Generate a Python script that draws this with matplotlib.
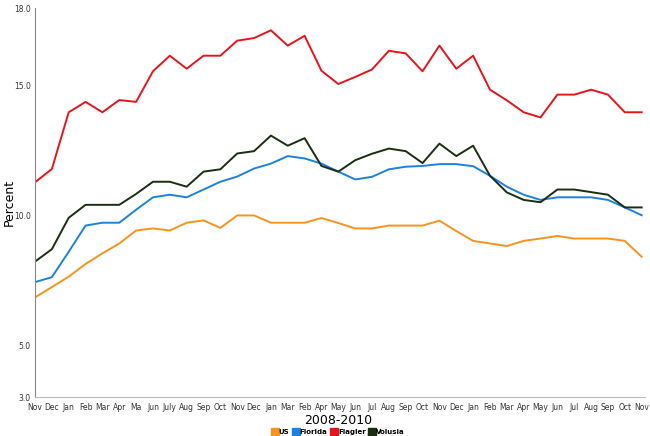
import matplotlib
matplotlib.use('Agg')
import matplotlib.pyplot as plt
from matplotlib.lines import Line2D

months = ['Nov', 'Dec', 'Jan', 'Feb', 'Mar', 'Apr', 'Ma', 'Jun', 'July', 'Aug', 'Sep', 'Oct',
          'Nov', 'Dec', 'Jan', 'Mar', 'Feb', 'Apr', 'May', 'Jun', 'Jul', 'Aug', 'Sep', 'Oct',
          'Nov', 'Dec', 'Jan', 'Feb', 'Mar', 'Apr', 'May', 'Jun', 'Jul', 'Aug', 'Sep', 'Oct', 'Nov']

us = [6.84, 7.24, 7.64, 8.13, 8.54, 8.92, 9.42, 9.50, 9.42, 9.72, 9.81, 9.52,
      10.0, 10.0, 9.72, 9.72, 9.72, 9.90, 9.71, 9.50, 9.50, 9.61, 9.61, 9.61,
      9.80, 9.40, 9.02, 8.92, 8.82, 9.02, 9.11, 9.21, 9.11, 9.11, 9.11, 9.02, 8.41]
florida = [7.43, 7.62, 8.60, 9.61, 9.72, 9.72, 10.22, 10.70, 10.80, 10.70, 11.00, 11.30,
           11.50, 11.81, 12.00, 12.29, 12.20, 12.00, 11.69, 11.39, 11.49, 11.78, 11.88, 11.91,
           11.98, 11.98, 11.90, 11.53, 11.11, 10.80, 10.60, 10.70, 10.70, 10.70, 10.60, 10.31, 10.01]
flagler = [11.28, 11.79, 13.98, 14.38, 13.98, 14.45, 14.38, 15.56, 16.16, 15.66, 16.16, 16.16,
           16.74, 16.84, 17.14, 16.55, 16.93, 15.58, 15.07, 15.34, 15.63, 16.35, 16.25, 15.56,
           16.55, 15.66, 16.16, 14.85, 14.44, 13.98, 13.78, 14.66, 14.66, 14.85, 14.66, 13.98, 13.98]
volusia = [8.22, 8.70, 9.91, 10.41, 10.41, 10.41, 10.83, 11.30, 11.30, 11.11, 11.69, 11.78,
           12.39, 12.48, 13.08, 12.69, 12.98, 11.91, 11.69, 12.13, 12.38, 12.58, 12.48, 12.02,
           12.77, 12.29, 12.69, 11.53, 10.89, 10.60, 10.51, 11.00, 11.00, 10.90, 10.80, 10.31, 10.31]

names = ['US', 'Florida', 'Flagler', 'Volusia']
colors = ['#F7931E', '#1C82E0', '#E8141C', '#1A2E12']
yticks = [3.0, 5.0, 10.0, 15.0, 18.0]

fig = plt.figure(figsize=(6.5, 4.36), dpi=100)
ax = fig.add_axes([35/650, 1-397/436, 610/650, 389/436])

x = list(range(len(months)))
for vals, c in zip([us, florida, flagler, volusia], colors):
    ax.plot(x, vals, color=c, lw=1.4)

ax.set_xlim(0, 36.2)
ax.set_ylim(3, 18)
ax.set_xticks(x)
ax.set_xticklabels(months, fontsize=5.5, color='#333333')
ax.set_yticks(yticks)
ax.set_yticklabels(['%.1f' % v for v in yticks], fontsize=5.5, color='#333333')
ax.tick_params(length=0, pad=3)
ax.tick_params(axis='x', pad=4)
for s in ['top', 'right']:
    ax.spines[s].set_visible(False)
ax.spines['left'].set_color('#888888')
ax.spines['bottom'].set_color('#bbbbbb')

fig.text(9/650, 1-202/436, 'Percent', rotation=90, ha='center', va='center', fontsize=9)
fig.text(338/650, 1-420/436, '2008-2010', ha='center', va='center', fontsize=9)

handles = [Line2D([], [], marker='s', ls='none', color=c, markersize=6) for c in colors]
fig.legend(handles, names, loc='center', bbox_to_anchor=(338/650, 1-432/436), ncol=4,
           frameon=False, prop={'size': 5, 'weight': 'bold'}, handletextpad=0.1,
           columnspacing=0.4, handlelength=1.0, borderpad=0)

fig.savefig('out.png', dpi=100)
